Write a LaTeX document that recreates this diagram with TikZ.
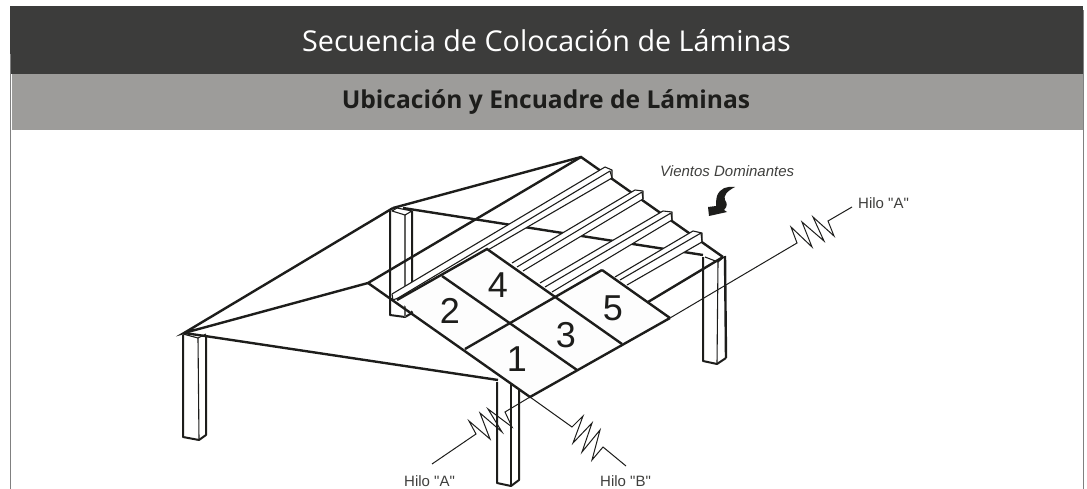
\documentclass[tikz,border=0pt]{standalone}
\usepackage{fontspec}
\newfontfamily\tagfont{Liberation Sans}
\newfontfamily\headfont{Open Sans}
\definecolor{inkc}{HTML}{1D1D1B}
\definecolor{darkband}{HTML}{3C3C3B}
\definecolor{greyband}{HTML}{9D9C9A}
\definecolor{sideline}{HTML}{808080}
\definecolor{sheetc}{HTML}{FDFDFD}
\tikzset{
  heavy/.style={draw=inkc,line width=2.4pt,line join=miter},
  medium/.style={draw=inkc,line width=2.0pt,line join=round},
  fine/.style={draw=inkc,line width=1.0pt,line join=miter},
  ridge/.style={draw=inkc,line width=1.1pt,line join=round},
  digit/.style={text=inkc,font=\tagfont\fontsize{36}{40}\selectfont,inner sep=0pt},
  tag/.style={text=inkc!85,font=\tagfont\fontsize{15}{18}\selectfont,inner sep=0pt,anchor=base west},
}
\begin{document}
\begin{tikzpicture}[x=1pt,y=-1pt]
\useasboundingbox (0,0) rectangle (1087,489);
% bands
\fill[darkband] (10,6) rectangle (1083,74);
\fill[greyband] (12,74) rectangle (1083,130.5);
\draw[sideline,line width=1.6pt] (10.5,54) -- (10.5,489);
\draw[sideline,line width=1.4pt] (1083.5,10) -- (1083.5,489);
\node[text=white,font=\headfont\fontsize{28.7}{32}\selectfont,inner sep=0pt,anchor=base] (title) at (546.5,52) {Secuencia de Colocación de Láminas};
\node[text=inkc,font=\headfont\bfseries\fontsize{24.6}{28}\selectfont,inner sep=0pt,anchor=base] (subtitle) at (546,109) {Ubicación y Encuadre de Láminas};
% posts
\draw[medium] (183,335) -- (183,437) -- (199,440) -- (206,435) -- (206,335);
\draw[ridge] (198,338) -- (199,440);
\draw[ridge] (183,334) -- (198,338) -- (206,334);
\draw[medium] (390,211) -- (390,315) -- (405,317) -- (412,313) -- (412,211);
\draw[ridge,draw=inkc!70] (405,215) -- (405,317);
\draw[ridge] (392,211) -- (405,215) -- (412,211) -- (397,208) -- cycle;
\draw[medium] (703,257) -- (703,361) -- (717,364) -- (726,358);
\draw[heavy] (726,358) -- (725,256);
\draw[ridge] (718,262) -- (717,364);
\draw[ridge] (705,257) -- (718,262) -- (724,257);
\draw[medium] (497,382) -- (497,483) -- (511,486) -- (519,480) -- (519,388);
\draw[medium] (511,384) -- (511,486);
% roof frame
\coordinate (apex) at (581,157);
\coordinate (bl) at (393,208);
\coordinate (fl) at (184,333);
\coordinate (rc) at (723,257);
\coordinate (mid) at (368,283);
\coordinate (fr) at (530,397);
\draw[heavy] (bl) -- (apex) -- (rc);
\draw[heavy] (bl) -- (fl) -- (mid) -- (apex);
\draw[heavy] (fl) -- (205,336) -- (498,380);
\draw[heavy] (403,208) -- (703,255);
% purlins
\foreach \ua/\ub/\ma/\mb/\la/\lb/\tr in {
  {392,294}/{605,167}/{398,298}/{610,171}/{400,301}/{612,178}/{612,170},
  {512,263}/{635,190}/{517,267}/{642,192}/{523,271}/{643,199}/{643,191},
  {540,283}/{663,211}/{545,287}/{671,213}/{552,292}/{672,220}/{672,212},
  {615,277}/{693,231}/{620,280}/{701,233}/{627,285}/{702,242}/{702,233}}{
  \fill[white] (\ua) -- (\ub) -- (\tr) -- (\lb) -- (\la) -- cycle;
  \draw[ridge] (\ua) -- (\ub) -- (\tr) -- (\lb) -- (\la);
  \draw[ridge] (\ma) -- (\mb) -- (\lb);
}
\draw[ridge] (392,294) -- (393,300) -- (398,298);
% sheets
\coordinate (s0) at (397,300);
\coordinate (s1) at (442,276);
\coordinate (s2) at (487,249);
\coordinate (s3) at (670,318);
\coordinate (s4) at (622,344);
\coordinate (s5) at (577,370);
\coordinate (s6) at (465,349);
\coordinate (s7) at (555,296);
\coordinate (s8) at (602,270);
\fill[sheetc] (s0) -- (s2) -- (s7) -- (s8) -- (s3) -- (fr) -- cycle;
\draw[heavy] (mid) -- (fr) -- (s3);
\draw[heavy] (s0) -- (s2) -- (s4);
\draw[heavy] (s1) -- (s5);
\draw[heavy] (s8) -- (s3);
\draw[heavy] (s6) -- (s8);
\draw[heavy] (648,302) -- (rc);
% digits
\node[digit] (n4) at (498,285) {4};
\node[digit] (n2) at (450,311) {2};
\node[digit] (n5) at (613,308) {5};
\node[digit] (n3) at (566,335) {3};
\node[digit] (n1) at (517,359) {1};
% wind arrow
\fill[inkc] (735,187) .. controls (727,186) and (720,188) .. (717,196) .. controls (716,200) and (716,203) .. (716,206) -- (708,207) -- (709,216) -- (727,212) -- (724,210) .. controls (728,206) and (727,203) .. (725,200) .. controls (723,196) and (727,191) .. (735,187) -- cycle;
\node[tag,font=\tagfont\itshape\fontsize{15}{18}\selectfont] (wind) at (660,177) {Vientos Dominantes};
% strings
\draw[fine] (s3) -- (797,243) -- (791,227) -- (812,247) -- (802,222) -- (824,241) -- (813,217) -- (834,236) -- (828,221) -- (852,207);
\draw[fine] (fr) -- (505,412) -- (512,427) -- (488,409) -- (502,432) -- (480,413) -- (490,439) -- (469,421) -- (476,434) -- (432,464);
\draw[fine] (fr) -- (572,427) -- (583,416) -- (573,443) -- (592,423) -- (582,452) -- (600,430) -- (592,460) -- (603,447) -- (626,466);
\node[tag] (hra) at (858,209) {Hilo "A"};
\node[tag] (hla) at (404,486) {Hilo "A"};
\node[tag] (hlb) at (600,486) {Hilo "B"};
\end{tikzpicture}
\end{document}
